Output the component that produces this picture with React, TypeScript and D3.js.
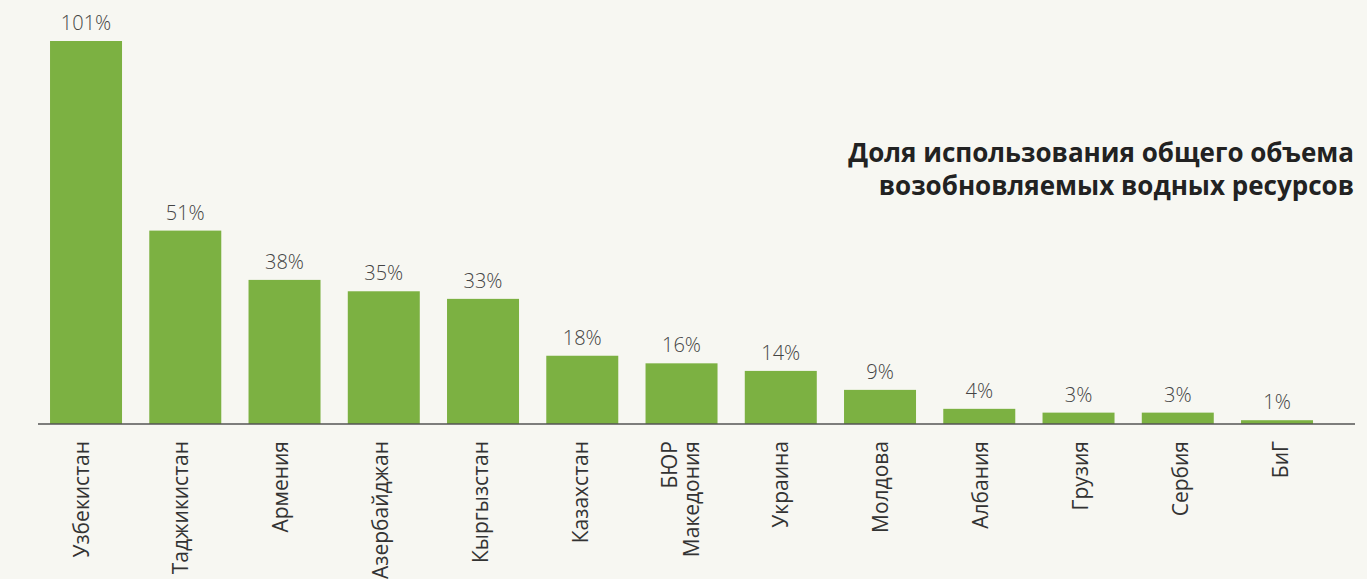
import React from "react";
import * as d3 from "d3";

const categories: string[][] = [
  ["Узбекистан"],
  ["Таджикистан"],
  ["Армения"],
  ["Азербайджан"],
  ["Кыргызстан"],
  ["Казахстан"],
  ["БЮР", "Македония"],
  ["Украина"],
  ["Молдова"],
  ["Албания"],
  ["Грузия"],
  ["Сербия"],
  ["БиГ"],
];
const values: number[] = [101, 51, 38, 35, 33, 18, 16, 14, 9, 4, 3, 3, 1];
const titleLines: string[] = [
  "Доля использования общего объема",
  "возобновляемых водных ресурсов",
];

const W = 1367;
const H = 579;
const baseY = 424;

export default function App() {
  const keys = categories.map((c) => c.join(" "));
  const x = d3
    .scaleBand<string>()
    .domain(keys)
    .range([36.4, 1326.65])
    .paddingInner(0.2746)
    .paddingOuter(0.1373);
  const labelX = d3.scalePoint<string>().domain(keys).range([88.5, 1287.5]);
  const y = d3.scaleLinear().domain([0, 101]).range([baseY, 41]);

  return (
    <div style={{ position: "absolute", left: 0, top: 0 }}>
      <svg width={W} height={H} style={{ display: "block" }}>
        <rect x={0} y={0} width={W} height={H} fill="#f7f7f2" />
        {values.map((v, i) => {
          const k = keys[i];
          const bx = x(k)!;
          return (
            <g key={k}>
              <rect
                x={bx}
                y={y(v)}
                width={x.bandwidth()}
                height={baseY - y(v)}
                fill="#7cb142"
              />
              <text
                x={bx + x.bandwidth() / 2}
                y={y(v) - 11}
                textAnchor="middle"
                fontFamily="'Open Sans', sans-serif"
                fontWeight={300}
                fontSize={20}
                fill="#444"
              >
                {v}%
              </text>
            </g>
          );
        })}
        <line x1={38} x2={1355} y1={baseY} y2={baseY} stroke="#555" strokeWidth={1.5} />
        {categories.map((lines, i) => {
          const lx = labelX(keys[i])!;
          const n = lines.length;
          return (
            <g key={keys[i]}>
              {lines.map((ln, j) => {
                const off = (j - (n - 1) / 2) * 22.7;
                return (
                  <text
                    key={j}
                    transform={`translate(${lx + off},441) rotate(-90)`}
                    textAnchor="end"
                    fontFamily="'Open Sans', sans-serif"
                    fontSize={21}
                    fill="#333"
                  >
                    {ln}
                  </text>
                );
              })}
            </g>
          );
        })}
        {titleLines.map((t, i) => (
          <text
            key={i}
            x={1354}
            y={162 + i * 33}
            textAnchor="end"
            fontFamily="'Open Sans', sans-serif"
            fontWeight={700}
            fontSize={26}
            fill="#222"
          >
            {t}
          </text>
        ))}
      </svg>
    </div>
  );
}
